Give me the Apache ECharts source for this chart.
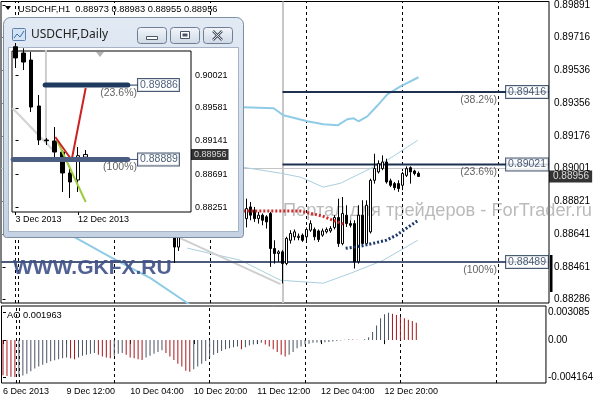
<!DOCTYPE html>
<html><head><meta charset="utf-8">
<script src="https://cdn.jsdelivr.net/npm/echarts@6/dist/echarts.min.js"></script>
<style>html,body{margin:0;padding:0;background:#fff}#c{width:596px;height:400px}</style>
</head><body><div id="c"></div>
<script>
const FONT = '"Liberation Sans", Arial, sans-serif';

// ---- H1 chart data: [barIndex (hours from 6 Dec 20:00), open, close, low, high]
const h1Candles = [
  [43,0.88700,0.88571,0.88484,0.88760],[44,0.88571,0.88660,0.88550,0.88720],
  [61,0.88726,0.88781,0.88678,0.88835],[62,0.88790,0.88745,0.88717,0.88817],
  [63,0.88772,0.88726,0.88708,0.88790],[64,0.88726,0.88745,0.88699,0.88763],
  [65,0.88745,0.88717,0.88690,0.88754],[66,0.88736,0.88708,0.88672,0.88745],
  [67,0.88754,0.88563,0.88463,0.88763],[68,0.88563,0.88536,0.88481,0.88608],
  [69,0.88536,0.88545,0.88491,0.88554],[70,0.88545,0.88481,0.88373,0.88554],
  [71,0.88481,0.88618,0.88472,0.88627],[72,0.88608,0.88645,0.88590,0.88663],
  [73,0.88627,0.88654,0.88608,0.88667],[74,0.88623,0.88630,0.88608,0.88645],
  [75,0.88636,0.88608,0.88599,0.88645],[76,0.88627,0.88667,0.88608,0.88678],
  [77,0.88663,0.88699,0.88654,0.88717],[78,0.88667,0.88627,0.88608,0.88678],
  [79,0.88659,0.88612,0.88599,0.88667],[80,0.88636,0.88659,0.88627,0.88672],
  [81,0.88654,0.88667,0.88645,0.88678],[82,0.88659,0.88672,0.88649,0.88685],
  [83,0.88678,0.88732,0.88667,0.88745],[84,0.88732,0.88590,0.88572,0.88835],
  [85,0.88590,0.88754,0.88581,0.88844],[86,0.88745,0.88699,0.88681,0.88799],
  [87,0.88699,0.88690,0.88678,0.88717],[88,0.88699,0.88491,0.88454,0.88717],
  [89,0.88491,0.88745,0.88481,0.88799],[90,0.88745,0.88590,0.88581,0.88826],
  [91,0.88590,0.88799,0.88581,0.88826],[92,0.88654,0.88935,0.88645,0.88944],
  [93,0.88935,0.88999,0.88917,0.89080],[94,0.88981,0.89026,0.88972,0.89044],
  [95,0.88999,0.89035,0.88990,0.89071],[96,0.89035,0.88926,0.88917,0.89053],
  [97,0.88932,0.88908,0.88899,0.88944],[98,0.88917,0.88895,0.88881,0.88926],
  [99,0.88917,0.88890,0.88872,0.88935],[100,0.88908,0.88972,0.88881,0.88981],
  [101,0.88962,0.88999,0.88953,0.89011],[102,0.89004,0.88981,0.88917,0.89011],
  [103,0.88986,0.88972,0.88962,0.88993],[104,0.88973,0.88956,0.88955,0.88983]
];
const aoValues = [
  -0.00395,-0.00405,-0.00412,-0.004164,-0.00410,-0.00398,-0.00378,-0.00350,-0.00320,-0.00298,
  -0.00278,-0.00258,-0.00238,-0.00226,-0.00215,-0.00205,-0.00195,-0.00205,-0.00215,-0.00195,
  -0.00175,-0.00164,-0.00154,-0.00144,-0.00165,-0.00185,-0.00195,-0.00205,-0.00175,-0.00155,
  -0.00144,-0.00165,-0.00195,-0.00205,-0.00215,-0.00225,-0.00195,-0.00175,-0.00155,-0.00133,
  -0.00113,-0.00144,-0.00185,-0.00225,-0.00266,-0.00297,-0.00345,-0.00358,-0.00328,-0.00297,
  -0.00266,-0.00236,-0.00195,-0.00164,-0.00144,-0.00123,-0.00103,-0.00092,-0.00082,-0.00072,
  -0.00103,-0.00082,-0.00062,-0.00051,-0.00041,-0.00031,-0.00051,-0.00072,-0.00103,-0.00133,
  -0.00164,-0.00185,-0.00164,-0.00133,-0.00092,-0.00072,-0.00051,-0.00041,-0.00031,-0.00028,
  -0.00026,-0.00024,-0.00021,-0.00015,-0.00010,-0.00005,0.00005,0.00010,0.00008,0.00004,
  0.00001,0.00010,0.00031,0.00092,0.00164,0.00246,0.00290,0.003085,0.00296,0.00282,
  0.00260,0.00245,0.00230,0.00216,0.001963
];
const timeLabelIdx = [0,16,32,48,64,80,96];
const timeLabels = ['6 Dec 2013','9 Dec 12:00','10 Dec 04:00','10 Dec 20:00','11 Dec 12:00','12 Dec 04:00','12 Dec 20:00'];
const daySeparators = [3.25,4,28,52,76,100,124];
const fibAnchorIdx = 70;
const priceTicks = [0.89891,0.89716,0.89536,0.89356,0.89176,0.89001,0.88821,0.88641,0.88461,0.88286];
const aoTicks = [0.003085,0,-0.004164];
const lastClose = 0.88956;
const fibLevels = [
  {value:0.89416, pct:'(38.2%)', from:70, color:'#1c3150'},
  {value:0.89021, pct:'(23.6%)', from:70, color:'#1c3150'},
  {value:0.88489, pct:'(100%)', from:-0.4, color:'#4b5a7a'}
];
const upperBand = [[60.2,0.89333],[67.8,0.89328],[70.2,0.89290],[76.2,0.89257],[80.2,0.89241],[83.8,0.89235],[86.2,0.89268],[87.8,0.89273],[89,0.89257],[91.2,0.89284],[93.8,0.89344],[96.2,0.89404],[99.5,0.89447],[104,0.89497]];
const middleBand = [[59.5,0.88990],[60.2,0.89006],[69.5,0.88974],[74.5,0.88952],[80.2,0.88898],[84.5,0.88919],[96.2,0.89045],[103.8,0.89153]];
const lowerBandLeft = [[16.2,0.88647],[27,0.88516],[37,0.88402],[46.2,0.88266],[50,0.88200]];
const lowerBandRight = [[46.2,0.88565],[59.5,0.88499],[69.5,0.88390],[80.2,0.88374],[87,0.88428],[95.2,0.88499],[103.8,0.88608]];
const trendLine = [[39.5,0.88669],[69.5,0.88369]];
const redDots = [[60.2,0.88767],[74.5,0.88767],[80,0.88740],[85.2,0.88696]];
const blueDots = [[85.8,0.88564],[89.5,0.88576],[93,0.88593],[96,0.88609],[98.5,0.88636],[101,0.88674],[104,0.88718]];

// ---- Daily inset data: [dayIndex, open, close, low, high]
const dailyCandles = [
  [0,0.90400,0.90250,0.90115,0.90450],[1,0.90316,0.90195,0.90088,0.90380],
  [2,0.90222,0.89592,0.89525,0.90329],[3,0.89606,0.89150,0.89083,0.89753],
  [4,0.89150,0.89140,0.89083,0.89177],[5,0.89137,0.88989,0.88922,0.89324],
  [6,0.88989,0.88708,0.88453,0.89016],[7,0.88708,0.88587,0.88373,0.88788],
  [8,0.88614,0.88940,0.88453,0.89056],[9,0.88920,0.88956,0.88909,0.89016]
];
const dailyTickIdx = [0,8];
const dailyTickLabels = ['3 Dec 2013','12 Dec 2013'];
const dailyPriceTicks = [0.90021,0.89581,0.89141,0.88691,0.88251];
const dailyFib = [
  {value:0.89886, pct:'(23.6%)', from:3.8, to:14.4, color:'#1f3a5f'},
  {value:0.88889, pct:'(100%)', from:-0.3, to:14.4, color:'#4b5d80'}
];
const dailyRedLine = [[5.1,0.89190],[7.2,0.88882],[9.0,0.89847]];
const dailyGreenLine = [[5.3,0.89150],[9.0,0.88319]];
const dailyGrayLine = [[-0.4,0.89579],[4.8,0.89016]];
const dailyGrayVertical = [[3.9,0.90400],[3.9,0.89150]];

const X_MIN=-0.375, X_MAX=136.625;
const D_MIN=-0.449, D_MAX=22.50;

const chart = echarts.init(document.getElementById('c'), null, {renderer:'canvas', width:596, height:400});

const series = [];
series.push({
  type:'candlestick', xAxisIndex:0, yAxisIndex:0, z:5,
  data:h1Candles, encode:{x:0,y:[1,2,3,4]}, barWidth:2,
  itemStyle:{color:'#fff',color0:'#000',borderColor:'#000',borderColor0:'#000',borderWidth:1},
  markLine:{silent:true,symbol:'none',animation:false,label:{show:false},z:3,
    data:[
      ...daySeparators.map(v=>({xAxis:v,lineStyle:{color:'#000',width:1,type:[3,3]}})),
      {xAxis:fibAnchorIdx,lineStyle:{color:'#c8c8c8',width:2,type:'solid'}},
      {yAxis:lastClose,lineStyle:{color:'#c4c4c4',width:1,type:'solid'}}
    ]}
});
series.push({
  type:'bar', xAxisIndex:1, yAxisIndex:1, barWidth:1, z:5,
  data:aoValues.map((v,i)=>[i,v]),
  itemStyle:{color:p=>{const i=p.dataIndex;return (i===0||aoValues[i]<aoValues[i-1])?'#a8161c':'#4a5464';}},
  markLine:{silent:true,symbol:'none',animation:false,label:{show:false},
    data:daySeparators.map(v=>({xAxis:v,lineStyle:{color:'#000',width:1,type:[3,3]}}))}
});
const lineBase = {type:'line', xAxisIndex:0, yAxisIndex:0, symbol:'none', silent:true, z:3};
series.push({...lineBase, data:upperBand, lineStyle:{color:'#8fcbe6',width:2}});
series.push({...lineBase, data:middleBand, lineStyle:{color:'#a9cfe0',width:1}});
series.push({...lineBase, data:lowerBandLeft, lineStyle:{color:'#8fcbe6',width:2}});
series.push({...lineBase, data:lowerBandRight, lineStyle:{color:'#a9cfe0',width:1}});
series.push({...lineBase, data:trendLine, lineStyle:{color:'#cfcfcf',width:2}});
series.push({...lineBase, z:6, data:redDots, lineStyle:{color:'#d42a2a',width:3,type:[2,2]}});
series.push({...lineBase, z:6, data:blueDots, lineStyle:{color:'#1f3a6a',width:3,type:[2,2]}});
fibLevels.forEach(f=>{
  series.push({...lineBase, z:4, data:[[f.from,f.value],[X_MAX,f.value]], lineStyle:{color:f.color,width:2}});
  series.push({type:'scatter', xAxisIndex:0, yAxisIndex:0, symbolSize:0, silent:true, z:7,
    data:[[X_MAX,f.value]],
    label:{show:true, position:'left', distance:1, formatter:()=>f.value.toFixed(5),
      color:'#1c3150', fontSize:10.5, fontFamily:FONT, backgroundColor:'#fff', borderColor:'#1c3150', borderWidth:1, padding:[1,2,0,2]}});
  series.push({type:'scatter', xAxisIndex:0, yAxisIndex:0, symbolSize:0, silent:true, z:7,
    data:[[X_MAX,f.value]],
    label:{show:true, position:'left', distance:52, offset:[0,8], formatter:()=>f.pct,
      color:'#3a3a3a', fontSize:10.5, fontFamily:FONT}});
});
series.push({type:'scatter', xAxisIndex:0, yAxisIndex:0, symbolSize:0, silent:true, z:8,
  data:[[X_MAX,lastClose]],
  label:{show:true, position:'right', distance:0, formatter:()=>lastClose.toFixed(5),
    color:'#fff', fontSize:10, fontFamily:FONT, backgroundColor:'#000', padding:[1,3,1,4]}});

// inset daily
const dBase = {type:'line', xAxisIndex:2, yAxisIndex:2, symbol:'none', silent:true, z:60};
series.push({
  type:'candlestick', xAxisIndex:2, yAxisIndex:2, z:62, clip:true,
  data:dailyCandles, encode:{x:0,y:[1,2,3,4]}, barWidth:4,
  itemStyle:{color:'#fff',color0:'#000',borderColor:'#000',borderColor0:'#000',borderWidth:1},
  markLine:{silent:true,symbol:'none',animation:false,label:{show:false},
    data:[{yAxis:lastClose,lineStyle:{color:'#c8c8c8',width:1,type:'solid'}}]}
});
series.push({...dBase, data:dailyGrayVertical, lineStyle:{color:'#cdcdcd',width:2}});
series.push({...dBase, data:dailyGrayLine, lineStyle:{color:'#d2d2d2',width:2}});
series.push({...dBase, z:63, data:dailyGreenLine, lineStyle:{color:'#9ccc3c',width:2}});
series.push({...dBase, z:64, data:dailyRedLine, lineStyle:{color:'#cc2222',width:2}});
dailyFib.forEach(f=>{
  series.push({...dBase, z:65, data:[[f.from,f.value],[f.to,f.value]], lineStyle:{color:f.color,width:5,cap:'round'}});
  series.push({...dBase, z:65, data:[[f.to,f.value],[15.7,f.value]], lineStyle:{color:f.color,width:1}});
  series.push({type:'scatter', xAxisIndex:2, yAxisIndex:2, symbolSize:0, silent:true, z:66,
    data:[[15.7,f.value]],
    label:{show:true, position:'right', distance:0, formatter:()=>f.value.toFixed(5),
      color:'#1c3150', fontSize:10.5, fontFamily:FONT, backgroundColor:'#fff', borderColor:'#1c3150', borderWidth:1, padding:[1,1,0,2]}});
  series.push({type:'scatter', xAxisIndex:2, yAxisIndex:2, symbolSize:0, silent:true, z:66,
    data:[[15.7,f.value]],
    label:{show:true, position:'left', distance:1, offset:[0,8], formatter:()=>f.pct,
      color:'#3a3a3a', fontSize:10.5, fontFamily:FONT}});
});
series.push({type:'scatter', xAxisIndex:2, yAxisIndex:2, symbolSize:0, silent:true, z:66,
  data:[[D_MAX,lastClose]],
  label:{show:true, position:'right', distance:0, formatter:()=>lastClose.toFixed(5),
    color:'#fff', fontSize:9, fontFamily:FONT, backgroundColor:'#000', padding:[1,2,1,3]}});

const grad = (a,b)=>new echarts.graphic.LinearGradient(0,0,0,1,[{offset:0,color:a},{offset:1,color:b}]);
const graphic = [
  {type:'polygon', z:20, shape:{points:[[5,6],[11,6],[8,10]]}, style:{fill:'#000'}},
  {type:'text', z:20, x:18, y:9, style:{text:'USDCHF,H1  0.88973 0.88983 0.88955 0.88956', fontSize:9.3, fontFamily:FONT, fill:'#000', verticalAlign:'middle'}},
  {type:'text', z:20, x:7, y:315, style:{text:'AO 0.001963', fontSize:9.3, fontFamily:FONT, fill:'#000', verticalAlign:'middle'}},
  {type:'text', z:1, x:283, y:211, style:{text:'Портал для трейдеров - ForTrader.ru', fontSize:18.2, fontFamily:FONT, fill:'rgba(140,140,140,0.6)', verticalAlign:'middle'}},
  {type:'text', z:20, x:13, y:268, style:{text:'WWW.GKFX.RU', fontSize:21, fontWeight:'bold', fontFamily:FONT, fill:'rgba(62,80,135,0.9)', verticalAlign:'middle'}},
  {type:'rect', z:20, shape:{x:550,y:255,width:2.5,height:37}, style:{fill:'#000'}},
  // inset window
  {type:'rect', z:50, shape:{x:3.5,y:17.5,width:240,height:220,r:[7,7,3,3]}, style:{fill:grad('#e2eaf4','#c4d2e3'), stroke:'#7d8ea3', lineWidth:1}},
  {type:'rect', z:51, shape:{x:8.5,y:47.5,width:230,height:184}, style:{fill:'#fff', stroke:'#a5b3c4'}},
  {type:'rect', z:52, shape:{x:12.5,y:28.5,width:13,height:12,r:1}, style:{fill:'#d3e3f4', stroke:'#5b7fae'}},
  {type:'polyline', z:53, shape:{points:[[14,38],[17,34],[20,37],[24,31]]}, style:{stroke:'#3a6aa8', lineWidth:1, fill:null}},
  {type:'text', z:52, x:31, y:35, style:{text:'USDCHF,Daily', fontSize:12, fontFamily:'"Noto Sans", sans-serif', fill:'#222', verticalAlign:'middle'}},
  ...[137,170,203].map(x=>({type:'rect', z:52, shape:{x:x+0.5,y:27.5,width:29,height:16,r:3}, style:{fill:grad('#f4f7fb','#cdd8e5'), stroke:'#6f7e92'}})),
  {type:'rect', z:53, shape:{x:146.5,y:36.5,width:11,height:3}, style:{fill:'#fff', stroke:'#4a5566'}},
  {type:'rect', z:53, shape:{x:180.5,y:31.5,width:9,height:7}, style:{fill:'#fff', stroke:'#4a5566', lineWidth:1}},
  {type:'rect', z:54, shape:{x:182.5,y:33.5,width:5,height:3}, style:{fill:'#4a5566'}},
  {type:'line', z:53, shape:{x1:213,y1:31,x2:222,y2:40}, style:{stroke:'#4a5566', lineWidth:2.5}},
  {type:'line', z:53, shape:{x1:222,y1:31,x2:213,y2:40}, style:{stroke:'#4a5566', lineWidth:2.5}},
  {type:'line', z:54, shape:{x1:213,y1:31,x2:222,y2:40}, style:{stroke:'#fff', lineWidth:0.8}},
  {type:'line', z:54, shape:{x1:222,y1:31,x2:213,y2:40}, style:{stroke:'#fff', lineWidth:0.8}},
  {type:'polygon', z:70, shape:{points:[[96,52],[104,52],[100,57]]}, style:{fill:'#b4b4b4'}}
];

const option = {
  animation:false, backgroundColor:'#fff',
  textStyle:{fontFamily:FONT},
  grid:[
    {left:1, top:1, width:548, height:302, show:true, borderColor:'#000', borderWidth:1, backgroundColor:'transparent'},
    {left:1, top:306, width:548, height:77, show:true, borderColor:'#000', borderWidth:1, backgroundColor:'transparent'},
    {left:12, top:51, width:179, height:161, show:true, borderColor:'#000', borderWidth:1, backgroundColor:'#fff', z:56}
  ],
  xAxis:[
    {gridIndex:0, type:'value', min:X_MIN, max:X_MAX, show:false},
    {gridIndex:1, type:'value', min:X_MIN, max:X_MAX, splitLine:{show:false}, axisLine:{show:false},
      axisTick:{show:true, customValues:timeLabelIdx, length:4, lineStyle:{color:'#000'}},
      axisLabel:{customValues:timeLabelIdx, align:'left', fontSize:9, color:'#000', margin:4, fontFamily:FONT,
        formatter:v=>{const i=timeLabelIdx.indexOf(Math.round(v));return i>=0?timeLabels[i]:'';}}},
    {gridIndex:2, type:'value', min:D_MIN, max:D_MAX, z:60, splitLine:{show:false}, axisLine:{show:false},
      axisTick:{show:true, customValues:dailyTickIdx, length:3, lineStyle:{color:'#000'}},
      axisLabel:{customValues:dailyTickIdx, align:'left', fontSize:9, color:'#000', margin:3, fontFamily:FONT,
        formatter:v=>{const i=dailyTickIdx.indexOf(Math.round(v));return i>=0?dailyTickLabels[i]:'';}}}
  ],
  yAxis:[
    {gridIndex:0, type:'value', position:'right', min:0.88266, max:0.89910, splitLine:{show:false}, axisLine:{show:false},
      axisTick:{show:true, customValues:priceTicks, length:3, lineStyle:{color:'#000'}},
      axisLabel:{customValues:priceTicks, fontSize:10, color:'#000', margin:5, fontFamily:FONT, formatter:v=>v.toFixed(5)}},
    {gridIndex:1, type:'value', position:'right', min:-0.004835, max:0.003843, splitLine:{show:false}, axisLine:{show:false},
      axisTick:{show:true, customValues:aoTicks, length:3, lineStyle:{color:'#000'}},
      axisLabel:{customValues:aoTicks, fontSize:10, color:'#000', margin:2, fontFamily:FONT, formatter:v=>v===0?'0.00':v.toFixed(6)}},
    {gridIndex:2, type:'value', position:'right', min:0.88185, max:0.90343, z:60, splitLine:{show:false}, axisLine:{show:false},
      axisTick:{show:true, customValues:dailyPriceTicks, length:3, lineStyle:{color:'#000'}},
      axisLabel:{customValues:dailyPriceTicks, fontSize:9, color:'#000', margin:4, fontFamily:FONT, formatter:v=>v.toFixed(5)}}
  ],
  graphic:graphic,
  series:series
};
chart.setOption(option);
</script>
</body></html>
